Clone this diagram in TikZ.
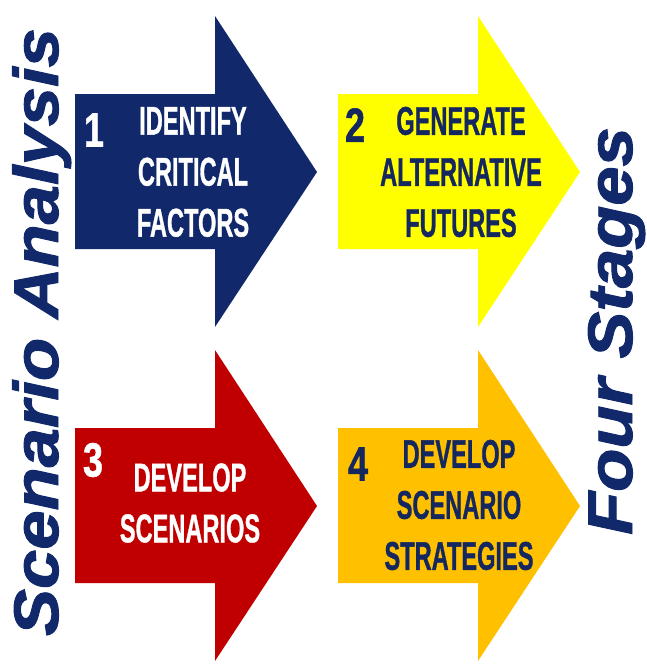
\documentclass[tikz,border=0pt]{standalone}
\usepackage{fontspec}
\setmainfont[BoldFeatures={FakeBold=1.2}]{Liberation Sans}
\newfontfamily\sidefont[BoldItalicFeatures={FakeBold=1.5}]{Liberation Sans}
\usepackage{tikz}
\definecolor{navyblue}{HTML}{11296B}
\definecolor{darktext}{HTML}{15275F}
\definecolor{darkred}{HTML}{C00000}
\definecolor{amber}{HTML}{FFC000}
\definecolor{brightyellow}{HTML}{FFFF00}
\tikzset{
  stagetext/.style={
    font=\fontsize{40}{51}\selectfont\bfseries,
    xscale=.59,
    transform shape,
    align=center,
    inner sep=0pt},
  stagenum/.style={
    font=\fontsize{48}{54}\selectfont\bfseries,
    xscale=.75,
    transform shape,
    inner sep=0pt},
  sidetitle/.style={
    font=\sidefont\fontsize{63}{70}\selectfont\bfseries\itshape,
    text=navyblue,
    anchor=base,
    rotate=90,
    xscale=1.12,
    transform shape,
    inner sep=0pt},
}
\def\stagearrow{-- ++(140,0) -- ++(0,-78) -- ++(102,156) -- ++(-102,155) -- ++(0,-78) -- ++(-140,0) -- cycle}

\begin{document}
\begin{tikzpicture}[x=1pt,y=-1pt]
    \useasboundingbox (0,0) rectangle (646,667);
    \fill[navyblue] (75,94) \stagearrow;
    \fill[brightyellow] (338,94) \stagearrow;
    \fill[darkred] (75,428) \stagearrow;
    \fill[amber] (338,428) \stagearrow;

    \node[stagenum,text=white] (num1) at (94,130) {1};
    \node[stagetext,text=white] (text1) at (193,172) {IDENTIFY\\CRITICAL\\FACTORS};
    \node[stagenum,text=darktext] (num2) at (355,125) {2};
    \node[stagetext,text=darktext] (text2) at (461,172) {GENERATE\\ALTERNATIVE\\FUTURES};
    \node[stagenum,text=white] (num3) at (93,460) {3};
    \node[stagetext,text=white] (text3) at (190,503) {DEVELOP\\SCENARIOS};
    \node[stagenum,text=darktext] (num4) at (358,464) {4};
    \node[stagetext,text=darktext] (text4) at (459,505) {DEVELOP\\SCENARIO\\STRATEGIES};

    \node[sidetitle] (title) at (58,332) {Scenario Analysis};
    \node[sidetitle] (subtitle) at (632,331) {Four Stages};
\end{tikzpicture}
\end{document}
